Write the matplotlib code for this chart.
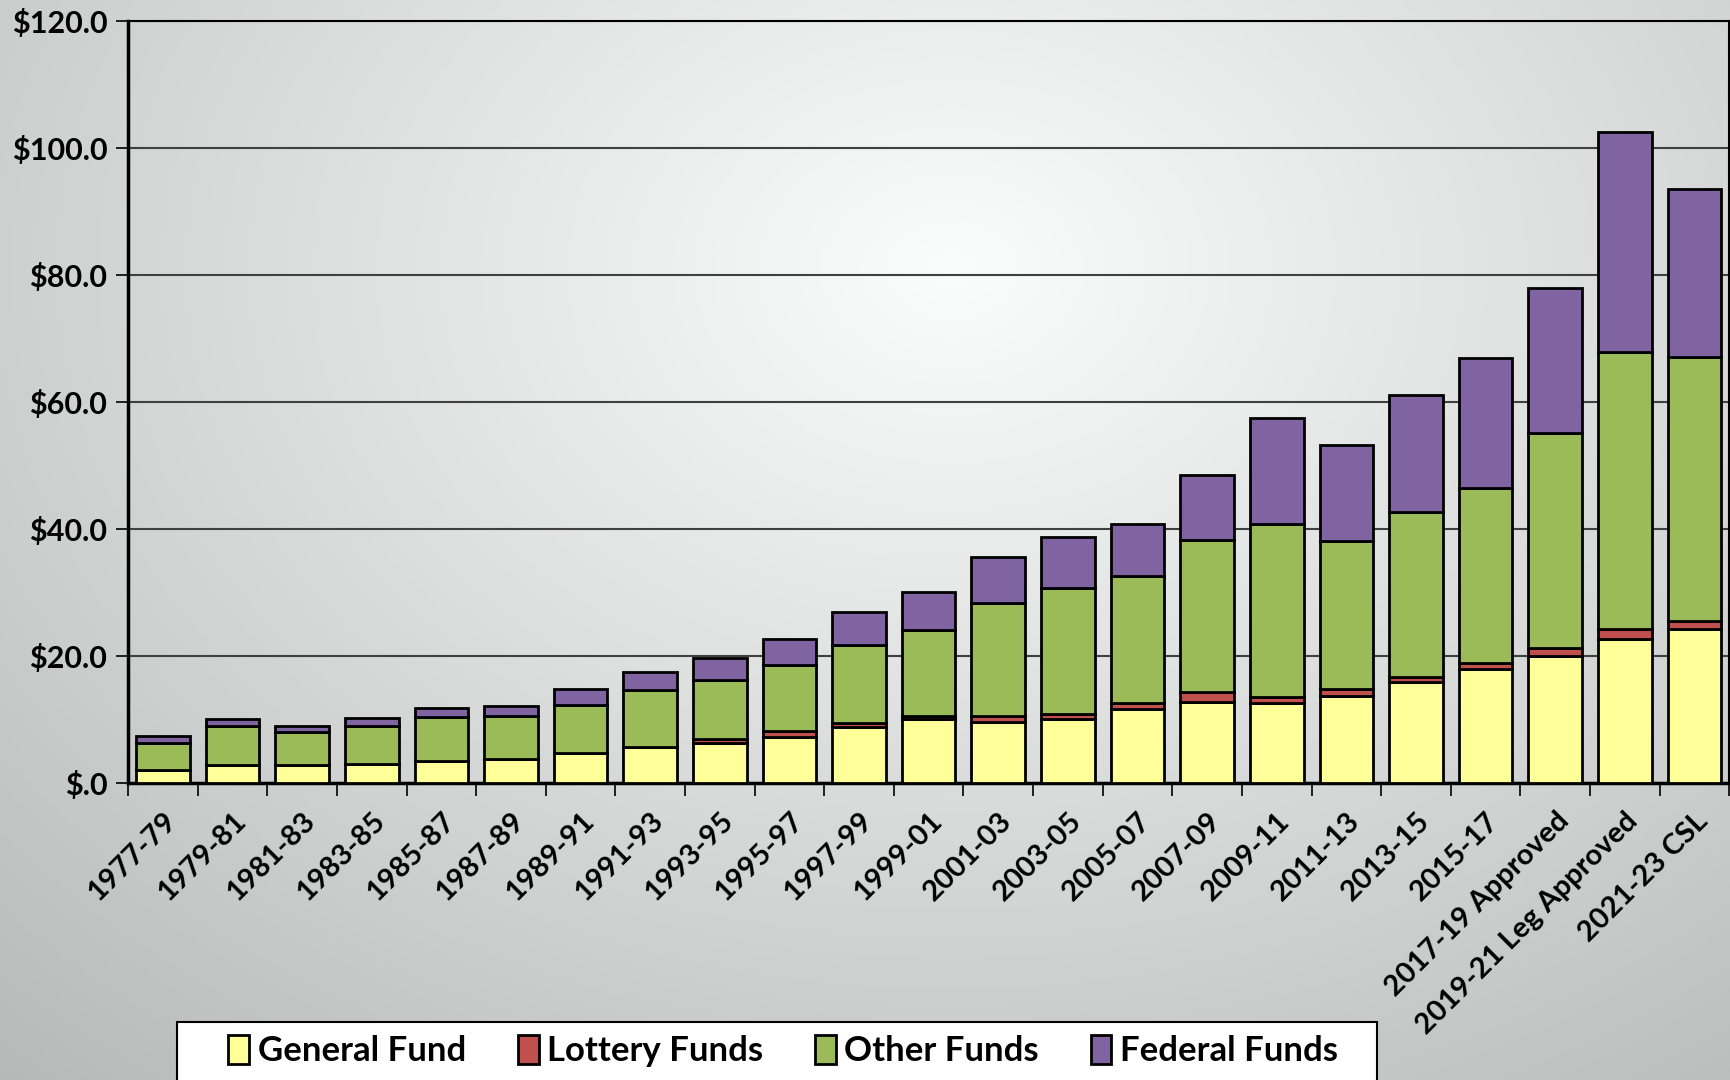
import numpy as np
import matplotlib.pyplot as plt
from matplotlib.patches import Rectangle

# Biennium labels and fund amounts (billions)
periods = ['1977-79', '1979-81', '1981-83', '1983-85', '1985-87', '1987-89',
           '1989-91', '1991-93', '1993-95', '1995-97', '1997-99', '1999-01',
           '2001-03', '2003-05', '2005-07', '2007-09', '2009-11', '2011-13',
           '2013-15', '2015-17', '2017-19 Approved', '2019-21 Leg Approved',
           '2021-23 CSL']
general = [2.0, 2.8, 2.8, 3.0, 3.4, 3.8, 4.6, 5.6, 6.3, 7.25, 8.7, 10.1,
           9.5, 10.1, 11.6, 12.7, 12.5, 13.65, 15.8, 17.9, 19.96, 22.6, 24.2]
lottery = [0, 0, 0, 0, 0, 0, 0, 0, 0.5, 0.9, 0.7, 0.4,
           1.05, 0.7, 0.9, 1.5, 1.0, 1.15, 0.9, 0.9, 1.24, 1.6, 1.2]
other = [4.3, 6.05, 5.15, 5.9, 6.9, 6.7, 7.7, 9.0, 9.3, 10.35, 12.35, 13.5,
         17.75, 19.9, 20.0, 24.0, 27.2, 23.3, 25.95, 27.6, 33.8, 43.6, 41.6]
federal = [1.1, 1.25, 1.0, 1.3, 1.45, 1.6, 2.45, 2.9, 3.55, 4.2, 5.1, 6.0,
           7.3, 8.0, 8.3, 10.2, 16.7, 15.05, 18.35, 20.5, 22.9, 34.65, 26.4]

series = [('General Fund', general, '#FFFF99'),
          ('Lottery Funds', lottery, '#C0504D'),
          ('Other Funds', other, '#9BBB59'),
          ('Federal Funds', federal, '#8064A2')]

plt.rcParams['font.family'] = ['Lato', 'DejaVu Sans']
plt.rcParams['font.weight'] = 'bold'

fig = plt.figure(figsize=(17.31, 10.8), dpi=100)

# gray gradient background
bg = fig.add_axes([0, 0, 1, 1], zorder=-10)
yy, xx = np.mgrid[0:1:300j, 0:1:480j]
r = np.sqrt(((xx - 0.55) * 1.2) ** 2 + ((yy - 0.25) * 1.0) ** 2)
shade = np.clip(1.0 - 0.27 * r, 0, 1)
bg.imshow(np.dstack([shade * 0.985, shade * 0.99, shade * 0.99]),
          aspect='auto', extent=[0, 1, 0, 1], origin='upper')
bg.axis('off')

ax = fig.add_axes([0.074, 0.2753, 0.925, 0.7057])
ax.patch.set_alpha(0)

x = np.arange(len(periods))
bottom = np.zeros(len(periods))
for name, vals, color in series:
    ax.bar(x, vals, 0.77, bottom=bottom, color=color, edgecolor='black',
           linewidth=2, label=name, zorder=3)
    bottom += np.array(vals)

ax.set_ylim(0, 120)
ax.set_xlim(-0.5, len(periods) - 0.5)
ax.set_yticks(range(0, 121, 20))
ax.set_yticklabels(['$.0'] + ['$%d.0' % v for v in range(20, 121, 20)])
ax.yaxis.grid(True, color='#404040', linewidth=1.5, zorder=0)

ax.set_xticks(x)
ax.set_xticklabels(periods, rotation=45, ha='right', rotation_mode='anchor')
ax.set_xticks(np.arange(-0.5, len(periods), 1), minor=True)
ax.tick_params(axis='x', which='major', length=0, pad=18, labelsize=21)
ax.tick_params(axis='x', which='minor', length=9, width=1.2, direction='out')
ax.tick_params(axis='y', length=9, width=1.2, labelsize=22, pad=6)

for side in ['left', 'bottom']:
    ax.spines[side].set_linewidth(2.5)
ax.spines['top'].set_linewidth(1.5)
ax.spines['right'].set_linewidth(1.5)

# legend box (runs off the bottom edge like the original)
fig.patches.append(Rectangle((0.102, -0.02), 0.6935, 0.0737,
                             transform=fig.transFigure, facecolor='white',
                             edgecolor='black', linewidth=1.5, zorder=1))
leg = fig.legend(loc='center left', bbox_to_anchor=(0.132, 0.0269, 0.641, 0),
                 mode='expand', ncol=4, fontsize=25, frameon=False,
                 handlelength=0.6, handleheight=0.9, handletextpad=0.25,
                 borderpad=0, borderaxespad=0)
leg.set_zorder(2)

fig.savefig('out.png', dpi=100)
